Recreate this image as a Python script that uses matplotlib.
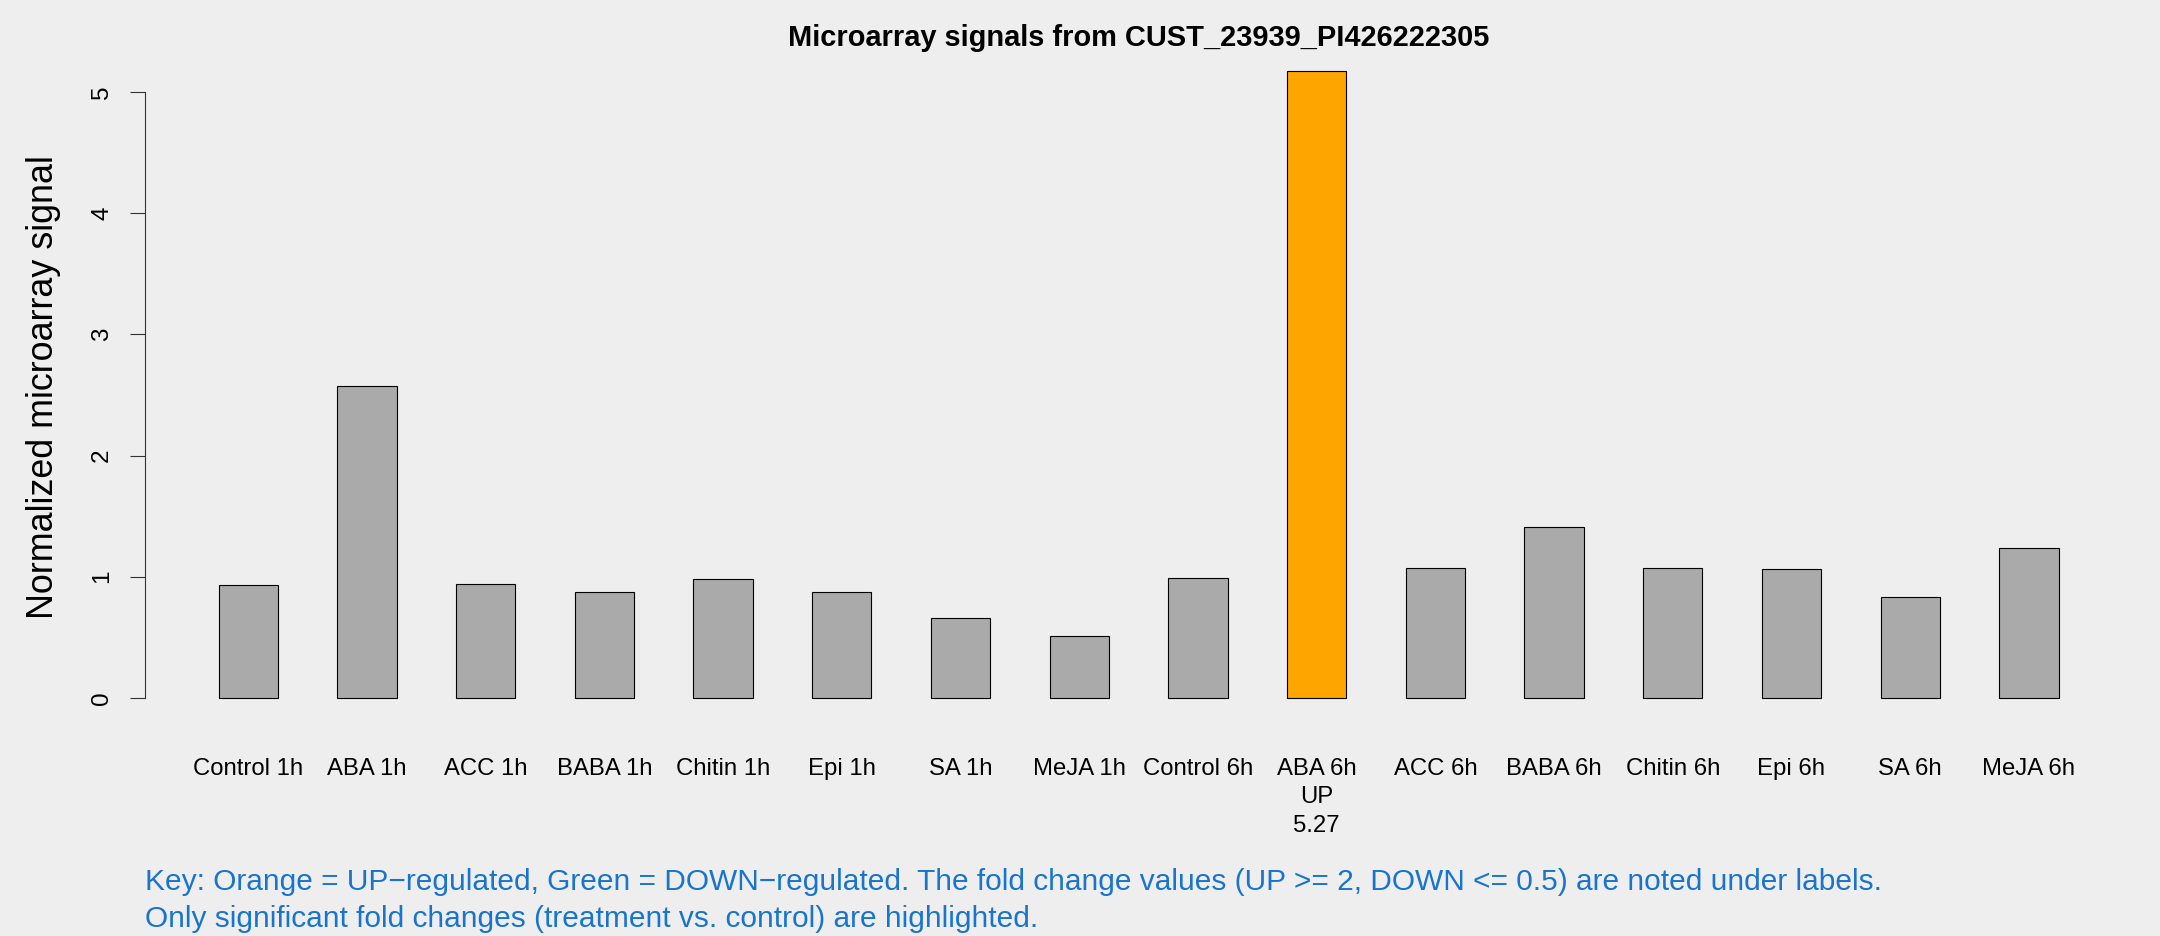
import matplotlib
matplotlib.use('Agg')
import matplotlib.pyplot as plt
import matplotlib.transforms as mtransforms

plt.rcParams['font.family'] = ['Liberation Sans', 'DejaVu Sans']

samples = ['Control 1h', 'ABA 1h', 'ACC 1h', 'BABA 1h', 'Chitin 1h', 'Epi 1h', 'SA 1h', 'MeJA 1h',
           'Control 6h', 'ABA 6h', 'ACC 6h', 'BABA 6h', 'Chitin 6h', 'Epi 6h', 'SA 6h', 'MeJA 6h']
signal = [0.93, 2.57, 0.94, 0.875, 0.98, 0.875, 0.66, 0.51,
          0.99, 5.17, 1.07, 1.41, 1.07, 1.06, 0.83, 1.24]
regulation = ['', '', '', '', '', '', '', '',
              '', 'UP', '', '', '', '', '', '']
fold_change = ['', '', '', '', '', '', '', '',
               '', '5.27', '', '', '', '', '', '']

title = 'Microarray signals from CUST_23939_PI426222305'
key_lines = ['Key: Orange = UP\u2212regulated, Green = DOWN\u2212regulated. The fold change values '
             '(UP >= 2, DOWN <= 0.5) are noted under labels.',
             'Only significant fold changes (treatment vs. control) are highlighted.']

bg = '#EEEEEE'
bar_colors = {'': '#AAAAAA', 'UP': '#FFA500', 'DOWN': '#00A000'}

W, H = 2160, 936
fig = plt.figure(figsize=(W / 100, H / 100), dpi=100, facecolor=bg)

# plot region in pixels (from reference)
left, right, top, bottom = 145, 2112, 46, 723
ax = fig.add_axes([left / W, 1 - bottom / H, (right - left) / W, (bottom - top) / H])
ax.set_facecolor(bg)

x = list(range(len(samples)))
ax.bar(x, signal, width=0.5, color=[bar_colors[r] for r in regulation],
       edgecolor='black', linewidth=0.8)

ax.set_xlim(-0.87, 15.7)
ax.set_ylim(-0.207, 5.38)
for s in ['top', 'right', 'bottom']:
    ax.spines[s].set_visible(False)
ax.spines['left'].set_bounds(0, 5)
ax.spines['left'].set_color('#333333')
ax.set_xticks([])
ax.set_yticks([0, 1, 2, 3, 4, 5])
ax.tick_params(axis='y', length=11, width=0.8, color='#333333', pad=12, labelsize=17.5)
for lab in ax.get_yticklabels():
    lab.set_rotation(90)
    lab.set_va('center')

fig.text(44 / W, 1 - 387 / H, 'Normalized microarray signal', rotation=90,
         ha='center', va='center', fontsize=25.8)

fig.text(((left + right) / 2 + 10) / W, 1 - 38 / H, title, ha='center', va='center',
         fontsize=20.9, fontweight='bold')

# sample labels under bars, with regulation notes
trans = mtransforms.blended_transform_factory(ax.transData, fig.transFigure)
for xi, name, reg, fc in zip(x, samples, regulation, fold_change):
    label = name
    if reg:
        label = name + '\n' + reg + '\n' + fc
    ax.text(xi, 1 - 758 / H, label, transform=trans, ha='center', va='top',
            fontsize=17.2, linespacing=1.38)

fig.text(left / W, 1 - 882 / H, key_lines[0], ha='left', va='center',
         fontsize=21.5, color='#1874CD')
fig.text(left / W, 1 - 919 / H, key_lines[1], ha='left', va='center',
         fontsize=21.5, color='#1874CD')

fig.savefig('out.png', dpi=100, facecolor=bg)
